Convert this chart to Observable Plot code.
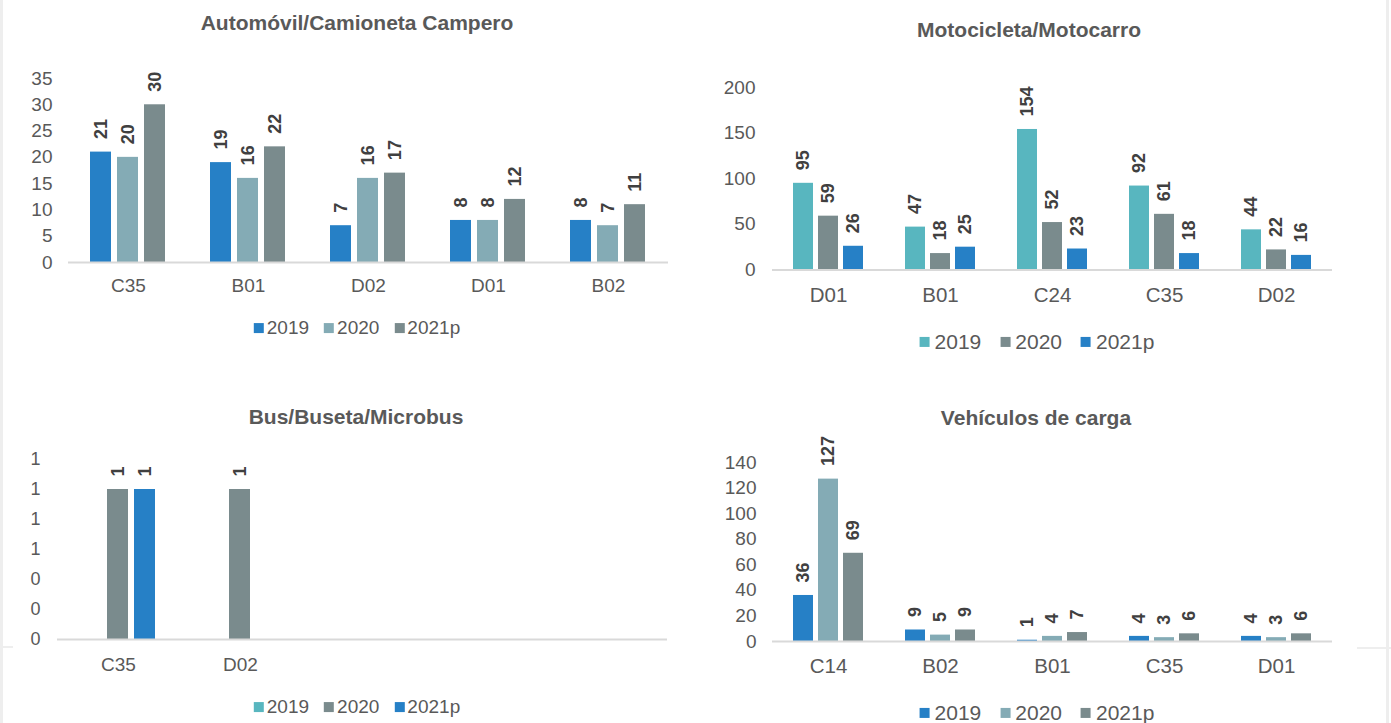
<!DOCTYPE html>
<html>
<head>
<meta charset="utf-8">
<script src="https://cdn.jsdelivr.net/npm/d3@7"></script>
<script src="https://cdn.jsdelivr.net/npm/@observablehq/plot@0.6"></script>
<style>
  body { margin: 0; background: #ffffff; }
  #root { position: relative; width: 1391px; height: 723px; overflow: hidden; background: #ffffff;
          font-family: "Liberation Sans", Arial, sans-serif; }
  .chart { position: absolute; }
  .title { position: absolute; font-weight: bold; color: #595959; white-space: nowrap;
           font-size: 21px; transform: translate(-50%, -50%); line-height: 1; }
  .legend-box { position: absolute; transform: translate(-50%, -50%); white-space: nowrap; }
  .edge { position: absolute; background: #eeeeee; }
  .lgS-swatches-wrap, .lgL-swatches-wrap { min-height: 0 !important; margin: 0 !important; flex-wrap: nowrap !important; line-height: 1.15; }
  .lgS-swatch { margin-right: 15px !important; }
  .lgS-swatch > svg { margin-right: 3px !important; }
  .lgL-swatch { margin-right: 19px !important; }
  .lgL-swatch > svg { margin-right: 5px !important; }
  .lgS-swatch:last-child, .lgL-swatch:last-child { margin-right: 0 !important; }
</style>
</head>
<body>
<div id="root"></div>
<script>
// ---------- data ----------
const years = ["2019", "2020", "2021p"];

// Automóvil/Camioneta Campero
const autoTitle = "Automóvil/Camioneta Campero";
const autoCategories = ["C35", "B01", "D02", "D01", "B02"];
const auto2019 = [21, 19, 7, 8, 8];
const auto2020 = [20, 16, 16, 8, 7];
const auto2021p = [30, 22, 17, 12, 11];
const autoTicks = [0, 5, 10, 15, 20, 25, 30, 35];

// Motocicleta/Motocarro
const motoTitle = "Motocicleta/Motocarro";
const motoCategories = ["D01", "B01", "C24", "C35", "D02"];
const moto2019 = [95, 47, 154, 92, 44];
const moto2020 = [59, 18, 52, 61, 22];
const moto2021p = [26, 25, 23, 18, 16];
const motoTicks = [0, 50, 100, 150, 200];

// Bus/Buseta/Microbus
const busTitle = "Bus/Buseta/Microbus";
const busCategories = ["C35", "D02"];
const busBlankSlots = ["_3", "_4", "_5"]; // unlabelled category slots of the source chart
const bus2019 = [null, null];
const bus2020 = [1, 1];
const bus2021p = [1, null];
const busTicks = [0, 0.2, 0.4, 0.6, 0.8, 1, 1.2];

// Vehículos de carga
const cargaTitle = "Vehículos de carga";
const cargaCategories = ["C14", "B02", "B01", "C35", "D01"];
const carga2019 = [36, 9, 1, 4, 4];
const carga2020 = [127, 5, 4, 3, 3];
const carga2021p = [69, 9, 7, 6, 6];
const cargaTicks = [0, 20, 40, 60, 80, 100, 120, 140];

// ---------- colours ----------
const BLUE = "#2680c6", LIGHT = "#84abb5", GRAY = "#7a8b8d", CYAN = "#58b6bf";
const FONT = '"Liberation Sans", Arial, sans-serif';

const root = document.getElementById("root");

function rowsOf(cats, series) {
  const rows = [];
  cats.forEach((c, i) => years.forEach((y, j) => {
    const v = series[j][i];
    if (v != null) rows.push({cat: c, year: y, value: v});
  }));
  return rows;
}

function addPanel(o) {
  const rows = rowsOf(o.cats, o.series);
  const allCats = [...o.cats, ...(o.blanks || [])];
  const chart = Plot.plot({
    width: o.width, height: o.height,
    marginLeft: o.mL, marginRight: o.mR, marginTop: o.mT, marginBottom: o.mB,
    style: `font-family: ${FONT}; background: transparent; overflow: visible;`,
    fx: {domain: allCats, padding: 0, label: null, axis: null},
    x: {domain: years, paddingInner: o.padIn, paddingOuter: o.padOut, axis: null},
    y: {domain: o.yDomain, label: null, axis: null},
    color: {domain: years, range: o.colors},
    marks: [
      Plot.axisY({ticks: o.yTicks, tickFormat: o.yFormat, tickSize: 0, tickPadding: o.yPad,
                  fontSize: o.tickFont, color: "#595959", label: null}),
      Plot.axisFx({anchor: "bottom", tickSize: 0, tickPadding: o.xPad, fontSize: o.catFont, color: "#595959", label: null,
                   tickFormat: d => o.cats.includes(d) ? d : ""}),
      Plot.barY(rows, {fx: "cat", x: "year", y: "value", fill: "year"}),
      Plot.ruleY(allCats, {fx: d => d, y: () => 0, stroke: "#d9d9d9", strokeWidth: 2}),
      Plot.text(rows, {fx: "cat", x: "year", y: "value", text: d => String(d.value),
                       rotate: -90, textAnchor: "start", lineAnchor: "middle", dy: -13,
                       fontSize: 18, fontWeight: "bold", fill: "#404040"})
    ]
  });
  chart.classList.add("chart");
  chart.style.left = o.left + "px";
  chart.style.top = o.top + "px";
  root.appendChild(chart);

  const t = document.createElement("div");
  t.className = "title";
  t.textContent = o.title;
  t.style.left = o.titleX + "px";
  t.style.top = o.titleY + "px";
  root.appendChild(t);

  const lg = Plot.legend({
    color: {domain: years, range: o.legendColors},
    legend: "swatches", swatchSize: 10, className: o.lgClass,
    style: `font-family: ${FONT}; font-size: ${o.legendFont}px; color: #595959; margin: 0;`
  });
  const box = document.createElement("div");
  box.className = "legend-box";
  box.style.left = o.legendX + "px";
  box.style.top = o.legendY + "px";
  box.appendChild(lg);
  root.appendChild(box);
}

const fmt0 = d3.format(".0f");

addPanel({
  title: autoTitle, titleX: 357, titleY: 22,
  cats: autoCategories, series: [auto2019, auto2020, auto2021p], colors: [BLUE, LIGHT, GRAY],
  legendColors: [BLUE, LIGHT, GRAY], lgClass: "lgS", legendFont: 19, legendX: 357, legendY: 328,
  left: 0, top: 0, width: 695, height: 310, mL: 68, mR: 27, mT: 78, mB: 48,
  padIn: 0.222, padOut: 0.833, yDomain: [0, 35], yTicks: autoTicks, yFormat: fmt0,
  tickFont: 19, catFont: 19, yPad: 16, xPad: 16
});

addPanel({
  title: motoTitle, titleX: 1029, titleY: 29,
  cats: motoCategories, series: [moto2019, moto2020, moto2021p], colors: [CYAN, GRAY, BLUE],
  legendColors: [CYAN, GRAY, BLUE], lgClass: "lgL", legendFont: 21, legendX: 1037, legendY: 342,
  left: 695, top: 0, width: 695, height: 320, mL: 77, mR: 58, mT: 87, mB: 50.5,
  padIn: 0.2, padOut: 0.84, yDomain: [0, 200], yTicks: motoTicks, yFormat: fmt0,
  tickFont: 19, catFont: 20.5, yPad: 17, xPad: 17
});

addPanel({
  title: busTitle, titleX: 356, titleY: 416,
  cats: busCategories, blanks: busBlankSlots, series: [bus2019, bus2020, bus2021p], colors: [CYAN, GRAY, BLUE],
  legendColors: [CYAN, GRAY, BLUE], lgClass: "lgS", legendFont: 19, legendX: 357, legendY: 707,
  left: 0, top: 360, width: 695, height: 320, mL: 57, mR: 28, mT: 99, mB: 41,
  padIn: 0.222, padOut: 0.87, yDomain: [0, 1.2], yTicks: busTicks, yFormat: fmt0,
  tickFont: 18, catFont: 19, yPad: 17, xPad: 18
});

addPanel({
  title: cargaTitle, titleX: 1036, titleY: 417,
  cats: cargaCategories, series: [carga2019, carga2020, carga2021p], colors: [BLUE, LIGHT, GRAY],
  legendColors: [BLUE, LIGHT, GRAY], lgClass: "lgL", legendFont: 21, legendX: 1037, legendY: 713,
  left: 695, top: 360, width: 695, height: 320, mL: 77, mR: 58, mT: 102, mB: 39,
  padIn: 0.2, padOut: 0.84, yDomain: [0, 140], yTicks: cargaTicks, yFormat: fmt0,
  tickFont: 19, catFont: 20.5, yPad: 16, xPad: 17
});

// faint frame fragments of the source layout
[[0, 0, 3, 723], [1386, 0, 3, 723], [0, 646, 13, 2], [1357, 647, 34, 2]].forEach(([x, y, w, h]) => {
  const e = document.createElement("div");
  e.className = "edge";
  e.style.left = x + "px"; e.style.top = y + "px";
  e.style.width = w + "px"; e.style.height = h + "px";
  root.appendChild(e);
});
</script>
</body>
</html>
